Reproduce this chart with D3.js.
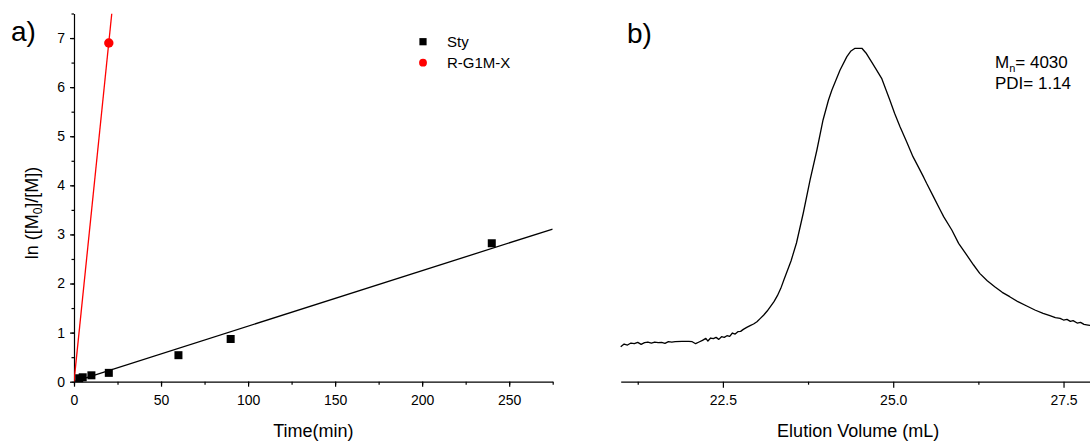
<!DOCTYPE html>
<html><head><meta charset="utf-8">
<script src="https://cdn.jsdelivr.net/npm/d3@7"></script>
<style>
html,body{margin:0;padding:0;background:#fff;}
svg{display:block;font-family:"Liberation Sans",Arial,sans-serif;}
</style></head>
<body>
<svg id="c" width="1090" height="441"></svg>
<script>
// ---- Panel a data ----
const styTime = [3, 5, 10, 20, 60, 90, 240];
const styLn = [0.07, 0.09, 0.13, 0.18, 0.54, 0.87, 2.82];
const rgTime = [20];
const rgLn = [6.9];
const styFitT = [0, 275];
const styFitY = [0, 3.11];
const rgFitT = [0, 21.7];
const rgFitY = [0, 7.5];
const aXTicks = [0, 50, 100, 150, 200, 250];
const aYTicks = [0, 1, 2, 3, 4, 5, 6, 7];
const legendLabels = ["Sty", "R-G1M-X"];

// ---- Panel b data ----
const elutionVol = [21.00,21.05,21.10,21.15,21.20,21.25,21.30,21.35,21.40,21.45,21.50,21.55,21.60,21.65,21.70,21.75,21.80,21.90,22.00,22.05,22.10,22.15,22.20,22.25,22.28,22.32,22.36,22.40,22.44,22.48,22.52,22.56,22.60,22.64,22.68,22.72,22.76,22.80,22.85,22.90,22.95,23.00,23.05,23.10,23.15,23.20,23.25,23.30,23.35,23.40,23.45,23.50,23.58,23.68,23.78,23.88,23.97,24.05,24.10,24.16,24.22,24.32,24.38,24.44,24.54,24.60,24.68,24.75,24.83,24.95,25.02,25.10,25.20,25.29,25.38,25.45,25.49,25.59,25.69,25.74,25.86,25.96,26.08,26.18,26.27,26.38,26.49,26.60,26.71,26.83,26.96,27.08,27.20,27.30,27.38,27.45,27.50,27.55,27.60,27.64,27.70,27.75,27.80,27.86,27.95];
const signal = [0.105,0.113,0.110,0.116,0.114,0.118,0.112,0.117,0.119,0.116,0.119,0.117,0.118,0.115,0.120,0.119,0.120,0.121,0.121,0.120,0.114,0.119,0.124,0.130,0.122,0.131,0.129,0.133,0.127,0.135,0.133,0.138,0.136,0.146,0.143,0.150,0.151,0.157,0.163,0.168,0.173,0.180,0.190,0.200,0.212,0.226,0.240,0.258,0.280,0.308,0.335,0.362,0.416,0.506,0.605,0.695,0.785,0.845,0.875,0.905,0.935,0.975,0.992,1.0,1.0,0.986,0.960,0.937,0.910,0.845,0.805,0.765,0.718,0.675,0.640,0.612,0.595,0.555,0.515,0.495,0.455,0.415,0.380,0.350,0.325,0.303,0.285,0.268,0.255,0.240,0.227,0.215,0.205,0.198,0.192,0.190,0.185,0.187,0.181,0.183,0.176,0.178,0.172,0.170,0.166];
const bXTicks = [22.5, 25.0, 27.5];
const annotation = ["M", "n", "= 4030", "PDI= 1.14"];

const svg = d3.select("#c");
const FONT = '"Liberation Sans",Arial,sans-serif';

// ===== Panel a =====
const xa = d3.scaleLinear().domain([0, 275]).range([74, 552.7]);
const ya = d3.scaleLinear().domain([0, 7.5]).range([381.7, 13.5]);

const gA = svg.append("g");
gA.append("g").attr("transform", `translate(0,${ya(0)})`)
  .call(d3.axisBottom(xa).tickValues(d3.range(0, 276, 25)).tickSize(3).tickFormat(""))
  .call(g => g.select(".domain").remove());
gA.append("g").attr("transform", `translate(${xa(0)},0)`)
  .call(d3.axisLeft(ya).tickValues(d3.range(0, 7.51, 0.5)).tickSize(2.5).tickFormat(""))
  .call(g => g.select(".domain").remove());
const axA = gA.append("g").attr("transform", `translate(0,${ya(0)})`)
  .call(d3.axisBottom(xa).tickValues(aXTicks).tickSize(5).tickPadding(8).tickSizeOuter(0));
const ayA = gA.append("g").attr("transform", `translate(${xa(0)},0)`)
  .call(d3.axisLeft(ya).tickValues(aYTicks).tickSize(4).tickPadding(5).tickSizeOuter(0));
[axA, ayA].forEach(a => {
  a.selectAll("text").attr("font-size", 14).attr("font-family", FONT).attr("fill", "#000");
});
gA.selectAll(".domain, .tick line").attr("stroke", "#000").attr("stroke-width", 1.2);

svg.append("clipPath").attr("id", "clipA").append("rect")
  .attr("x", xa(0)).attr("y", ya(7.5)).attr("width", xa(275) - xa(0)).attr("height", ya(0) - ya(7.5));
const plotA = svg.append("g").attr("clip-path", "url(#clipA)");
const line = d3.line();
plotA.append("path").attr("d", line(styFitT.map((t, i) => [xa(t), ya(styFitY[i])])))
  .attr("stroke", "#000").attr("stroke-width", 1.3).attr("fill", "none");
plotA.append("path").attr("d", line(rgFitT.map((t, i) => [xa(t), ya(rgFitY[i])])))
  .attr("stroke", "#ff0000").attr("stroke-width", 1.3).attr("fill", "none");

svg.append("g").selectAll("rect").data(styTime).join("rect")
  .attr("x", (d) => xa(d) - 4).attr("y", (d, i) => ya(styLn[i]) - 4)
  .attr("width", 8).attr("height", 8).attr("fill", "#000");
svg.append("g").selectAll("circle").data(rgTime).join("circle")
  .attr("cx", d => xa(d)).attr("cy", (d, i) => ya(rgLn[i])).attr("r", 4.7).attr("fill", "#ff0000");

// legend
svg.append("rect").attr("x", 423 - 3.6).attr("y", 41.7 - 3.6).attr("width", 7.2).attr("height", 7.2).attr("fill", "#000");
svg.append("circle").attr("cx", 423).attr("cy", 62.7).attr("r", 3.9).attr("fill", "#ff0000");
svg.selectAll("text.leg").data(legendLabels).join("text").attr("class", "leg")
  .attr("x", 447).attr("y", (d, i) => 47 + i * 21)
  .attr("font-size", 15).attr("font-family", FONT).text(d => d);

// axis titles
svg.append("text").attr("x", xa(137.5)).attr("y", 437).attr("text-anchor", "middle")
  .attr("font-size", 18).attr("font-family", FONT).text("Time(min)");
const yl = svg.append("text").attr("transform", "translate(38,213) rotate(-90)")
  .attr("text-anchor", "middle").attr("font-size", 18).attr("font-family", FONT);
yl.append("tspan").text("ln ([M");
yl.append("tspan").attr("font-size", 12).attr("dy", 4).text("0");
yl.append("tspan").attr("dy", -4).text("]/[M])");

svg.append("text").attr("x", 11).attr("y", 41).attr("font-size", 28).attr("font-family", FONT).text("a)");

// ===== Panel b =====
const xb = d3.scaleLinear().domain([21, 28]).range([620.7, 1097.6]);
const yb = d3.scaleLinear().domain([0, 1]).range([381.7, 48.3]);
const gB = svg.append("g");
gB.append("g").attr("transform", `translate(0,${yb(0)})`)
  .call(d3.axisBottom(xb).tickValues([21.25, 23.75, 26.25]).tickSize(3).tickFormat(""))
  .call(g => g.select(".domain").remove());
const axB = gB.append("g").attr("transform", `translate(0,${yb(0)})`)
  .call(d3.axisBottom(xb).tickValues(bXTicks).tickSize(6).tickPadding(7).tickSizeOuter(0).tickFormat(d3.format(".1f")));
axB.selectAll("text").attr("font-size", 14).attr("font-family", FONT).attr("fill", "#000");
gB.selectAll(".domain, .tick line").attr("stroke", "#000").attr("stroke-width", 1.2);

svg.append("path")
  .attr("d", d3.line().x((d) => xb(d)).y((d, i) => yb(signal[i]))(elutionVol))
  .attr("stroke", "#000").attr("stroke-width", 1.3).attr("fill", "none").attr("stroke-linejoin", "round");

svg.append("text").attr("x", xb(24.5) - 1).attr("y", 437).attr("text-anchor", "middle")
  .attr("font-size", 18).attr("font-family", FONT).text("Elution Volume (mL)");
svg.append("text").attr("x", 627).attr("y", 43).attr("font-size", 28).attr("font-family", FONT).text("b)");

const ann = svg.append("text").attr("x", 995).attr("y", 68).attr("font-size", 17).attr("font-family", FONT);
ann.append("tspan").text(annotation[0]);
ann.append("tspan").attr("font-size", 11).attr("dy", 4).text(annotation[1]);
ann.append("tspan").attr("dy", -4).text(annotation[2]);
svg.append("text").attr("x", 995).attr("y", 89).attr("font-size", 17).attr("font-family", FONT).text(annotation[3]);
</script>
</body></html>
